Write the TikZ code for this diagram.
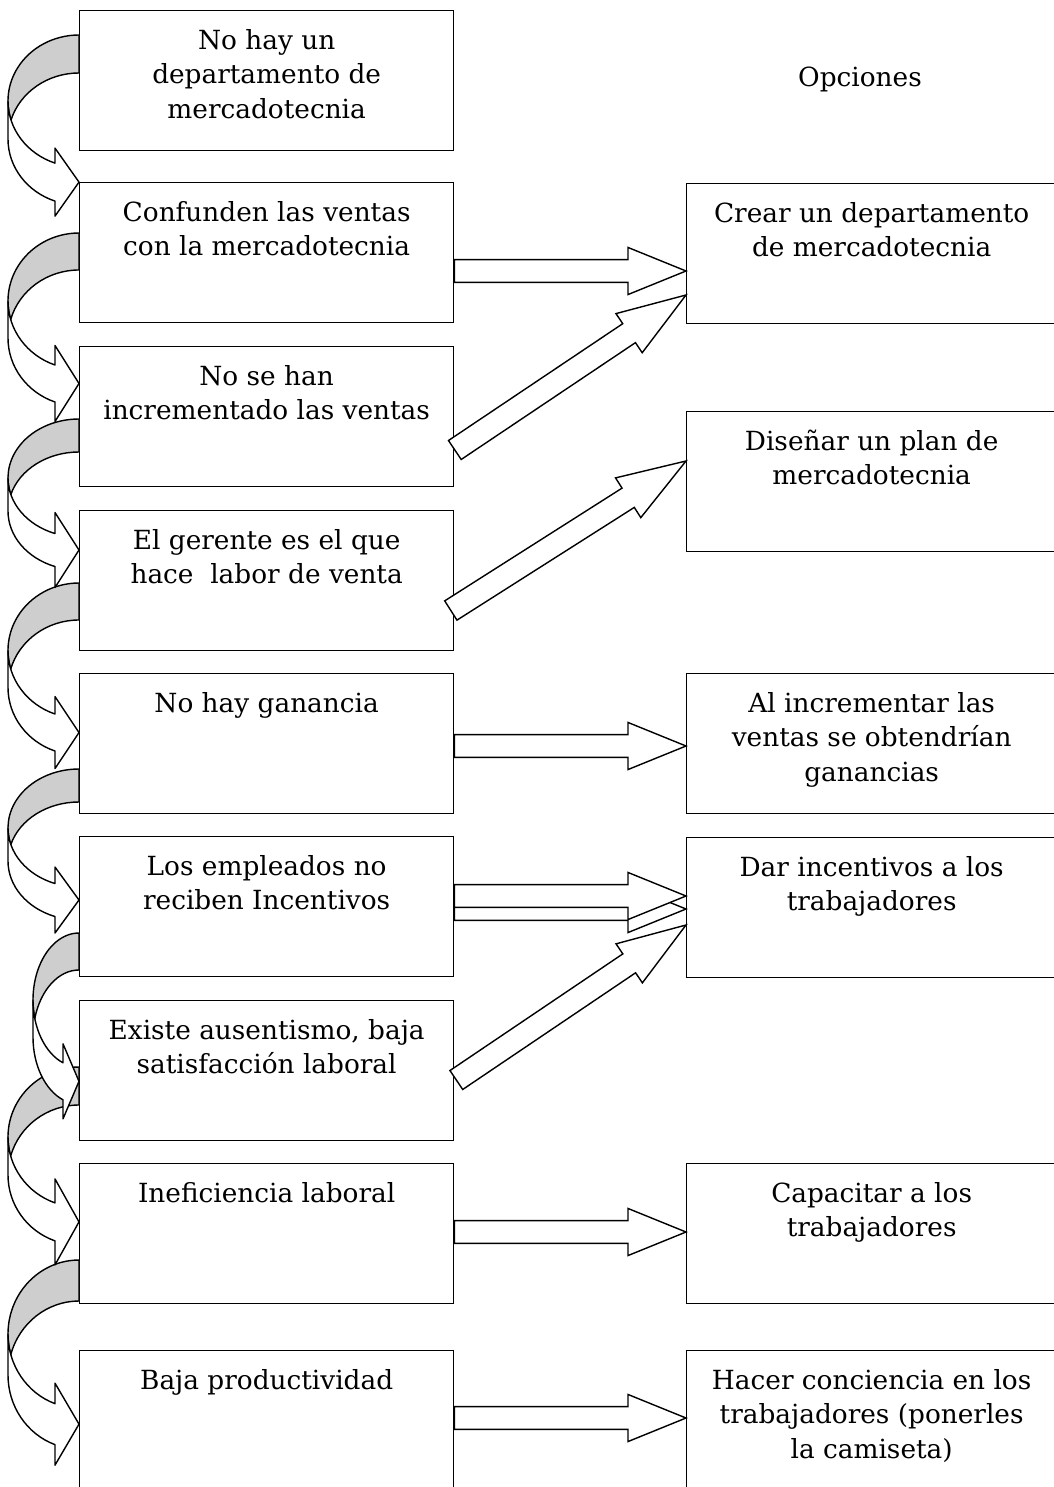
\documentclass[tikz,border=0pt]{standalone}
\usepackage{fontspec}
\setmainfont{DejaVu Serif}
\usetikzlibrary{calc}
\definecolor{sombra}{RGB}{206,206,206}
\newcommand{\texto}{\fontsize{15pt}{19.6pt}\selectfont}

% flecha curva: izquierda, arriba, radio vertical, grosor, largo punta, ancho punta
\newcommand{\bajada}[6]{%
  \pgfmathsetmacro{\bjW}{79-#1}%
  \pgfmathsetmacro{\bjC}{asin(#4/(2*#3))}%
  \pgfmathsetmacro{\bjF}{180-acos(#5/\bjW)}%
  \pgfmathsetmacro{\bjB}{#2+#3+#3*sin(\bjF)}%
  \pgfmathsetmacro{\bjT}{\bjB+#4/2}%
  \draw[curva,fill=sombra] (79,#2) arc[start angle=270,end angle={180-\bjC},x radius=\bjW,y radius=#3]
    arc[start angle={180+\bjC},end angle=270,x radius=\bjW,y radius=#3] -- cycle;
  \draw[curva,fill=white] (#1,#2+#3) arc[start angle=180,end angle=\bjF,x radius=\bjW,y radius=#3]
    -- (79-#5,\bjT-#6/2) -- (79,\bjT) -- (79-#5,\bjT+#6/2) -- (79-#5,\bjB+#4)
    arc[start angle=\bjF,end angle=180,x radius=\bjW,y radius=#3] -- cycle;
}
% flecha gruesa de #2 a #3
\newcommand{\gruesa}[3][33pt]{%
  \coordinate (hb) at ($(#3)!#1!(#2)$);
  \draw[bloque] ($(#2)!6.5pt!90:(#3)$) -- ($(hb)!6.5pt!90:(#3)$) -- ($(hb)!13.4pt!90:(#3)$)
    -- (#3) -- ($(hb)!13.4pt!-90:(#3)$) -- ($(hb)!6.5pt!-90:(#3)$) -- ($(#2)!6.5pt!-90:(#3)$) -- cycle;
}

\begin{document}
\begin{tikzpicture}[x=0.02cm,y=-0.02cm,
  caja/.style={draw,line width=.8pt,inner sep=0pt,anchor=north west,font=\texto,
    execute at begin node={\begin{minipage}[c][2.8cm][t]{#1}\centering\rule{0pt}{22pt}},
    execute at end node={\end{minipage}}},
  curva/.style={line width=.8pt,line join=round},
  bloque/.style={draw,fill=white,line width=.8pt,line join=miter}]
\useasboundingbox (0,0) rectangle (1054,1487);

\node[caja=7.48cm] (c1) at (79,10) {No hay un\\departamento de\\mercadotecnia};
\node[caja=7.48cm] (c2) at (79,182) {Confunden las ventas\\con la mercadotecnia};
\node[caja=7.48cm] (c3) at (79,346) {No se han\\incrementado las ventas};
\node[caja=7.48cm] (c4) at (79,510) {El gerente es el que\\hace\ \ labor de venta};
\node[caja=7.48cm] (c5) at (79,673) {No hay ganancia};
\node[caja=7.48cm] (c6) at (79,836) {Los empleados no\\reciben Incentivos};
\node[caja=7.48cm] (c7) at (79,1000) {Existe ausentismo, baja\\satisfacción laboral};
\node[caja=7.48cm] (c8) at (79,1163) {Ineficiencia laboral};
\node[caja=7.48cm] (c9) at (79,1350) {Baja productividad};

\node[font=\texto] (op) at (860,79) {Opciones};
\node[caja=7.4cm] (o1) at (686,183) {Crear un departamento\\de mercadotecnia};
\node[caja=7.4cm] (o2) at (686,411) {Diseñar un plan de\\mercadotecnia};
\node[caja=7.4cm] (o3) at (686,673) {Al incrementar las\\ventas se obtendrían\\ganancias};
\node[caja=7.4cm] (o4) at (686,837) {Dar incentivos a los\\trabajadores};
\node[caja=7.4cm] (o5) at (686,1163) {Capacitar a los\\trabajadores};
\node[caja=7.4cm] (o6) at (686,1350) {Hacer conciencia en los\\trabajadores (ponerles\\la camiseta)};

\bajada{8}{1260}{74}{41}{24}{82}
\bajada{8}{1067}{70}{38}{24}{86}
\bajada{33}{933}{67}{37}{16}{75}
\bajada{8}{769}{59}{33}{24}{66}
\bajada{8}{583}{67.5}{37}{24}{72}
\bajada{8}{419}{59}{33}{24}{75}
\bajada{8}{233}{68}{37}{24}{76}
\bajada{8}{35}{66}{38}{24}{68}

\coordinate (s1) at ($(c2.north east)+(0,89)$);
\coordinate (p1) at ($(o1.north west)+(0,88)$);
\coordinate (s2) at ($(c3.north east)+(0.5,104)$);
\coordinate (p2) at ($(o1.north west)+(0,112)$);
\coordinate (s3) at ($(c4.north east)+(-3.5,100.5)$);
\coordinate (p3) at ($(o2.north west)+(0,50)$);
\coordinate (s4) at ($(c5.north east)+(0,73)$);
\coordinate (p4) at ($(o3.north west)+(0,73)$);
\coordinate (s5) at ($(c6.north east)+(0,60)$);
\coordinate (p5) at ($(o4.north west)+(0,59)$);
\coordinate (s6) at ($(c6.north east)+(0,73)$);
\coordinate (p6) at ($(o4.north west)+(0,72)$);
\coordinate (s7) at ($(c7.north east)+(2,80)$);
\coordinate (p7) at ($(o4.north west)+(0,88)$);
\coordinate (s8) at ($(c8.north east)+(0,69)$);
\coordinate (p8) at ($(o5.north west)+(0,69)$);
\coordinate (s9) at ($(c9.north east)+(0,68)$);
\coordinate (p9) at ($(o6.north west)+(0,68)$);

\gruesa{s1}{p1}
\gruesa[39pt]{s2}{p2}
\gruesa[39pt]{s3}{p3}
\gruesa{s4}{p4}
\gruesa{s6}{p6}
\gruesa{s5}{p5}
\gruesa[39pt]{s7}{p7}
\gruesa{s8}{p8}
\gruesa{s9}{p9}
\end{tikzpicture}
\end{document}
